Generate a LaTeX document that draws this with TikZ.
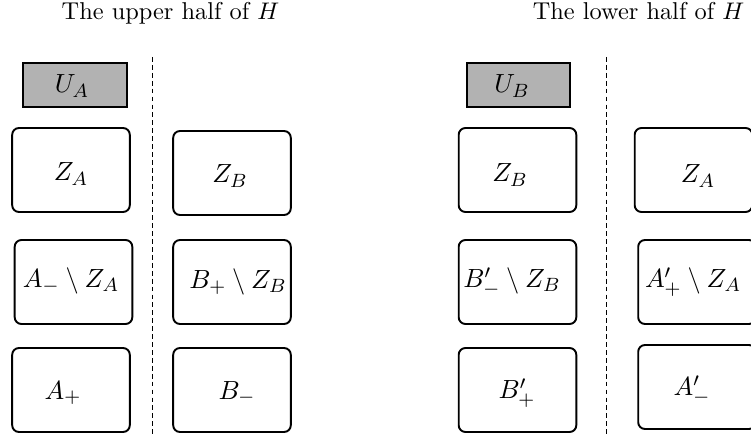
\documentclass[tikz,border=0pt]{standalone}
\begin{document}
\begin{tikzpicture}[x=0.4167pt,y=-0.4167pt,
  setbox/.style={draw, line width=0.8pt, rounded corners=2.8pt, minimum width=49pt, minimum height=35pt, inner sep=0pt},
  ubox/.style={draw, line width=0.8pt, fill=black!30, minimum width=43pt, minimum height=18.3pt, inner sep=0pt},
  lbl/.style={inner sep=0pt, font=\fontsize{10.9}{13}\selectfont},
  sep/.style={line width=0.4pt, dash pattern=on 2pt off 1.3pt},
  ttl/.style={anchor=base, inner sep=0pt, font=\fontsize{10.15}{12}\selectfont}]
\useasboundingbox (0,0) rectangle (751,436);
\begin{scope}
\clip (0,0) rectangle (751,436);
% titles
\node[ttl] (t1) at (170.5,20) {The upper half of $H$};
\node[ttl] (t2) at (638.5,20) {The lower half of $H$};
% separators
\coordinate (s1a) at (152,57); \coordinate (s1b) at (152,436);
\coordinate (s2a) at (606,57); \coordinate (s2b) at (606,436);
\draw[sep] (s1a) -- (s1b);
\draw[sep] (s2a) -- (s2b);
% left half boxes
\node[ubox] (UA) at (75,85) {};
\node[setbox] (ZA) at (71,170) {};
\node[setbox] (ZB1) at (232,173) {};
\node[setbox] (AmZA) at (73.5,282) {};
\node[setbox] (BpZB) at (232,282) {};
\node[setbox] (Ap) at (71,390) {};
\node[setbox] (Bm) at (232,390) {};
% left half labels
\node[lbl] (lUA) at (72,86) {$U_A$};
\node[lbl] (lZA) at (71,174) {$Z_A$};
\node[lbl] (lZB1) at (230,176) {$Z_B$};
\node[lbl] (lAmZA) at (71,281) {$A_-\setminus Z_A$};
\node[lbl] (lBpZB) at (238,282) {$B_+\setminus Z_B$};
\node[lbl] (lAp) at (63,393) {$A_+$};
\node[lbl] (lBm) at (237,393) {$B_-$};
% right half boxes
\node[ubox] (UB) at (518.5,85) {};
\node[setbox] (ZB2) at (517.5,170) {};
\node[setbox] (ZA2) at (693.5,170) {};
\node[setbox] (BmZB) at (517.5,282) {};
\node[setbox] (ApZA) at (697,282) {};
\node[setbox] (Bp2) at (517.5,390) {};
\node[setbox] (Am2) at (697,387) {};
% right half labels
\node[lbl] (lUB) at (512,86) {$U_B$};
\node[lbl] (lZB2) at (510,175) {$Z_B$};
\node[lbl] (lZA2) at (698,176) {$Z_A$};
\node[lbl] (lBmZB) at (512,282) {$B'_-\setminus Z_B$};
\node[lbl] (lApZA) at (693,282) {$A'_+\setminus Z_A$};
\node[lbl] (lBp2) at (517,393) {$B'_+$};
\node[lbl] (lAm2) at (692,390) {$A'_-$};
\end{scope}
\end{tikzpicture}
\end{document}
